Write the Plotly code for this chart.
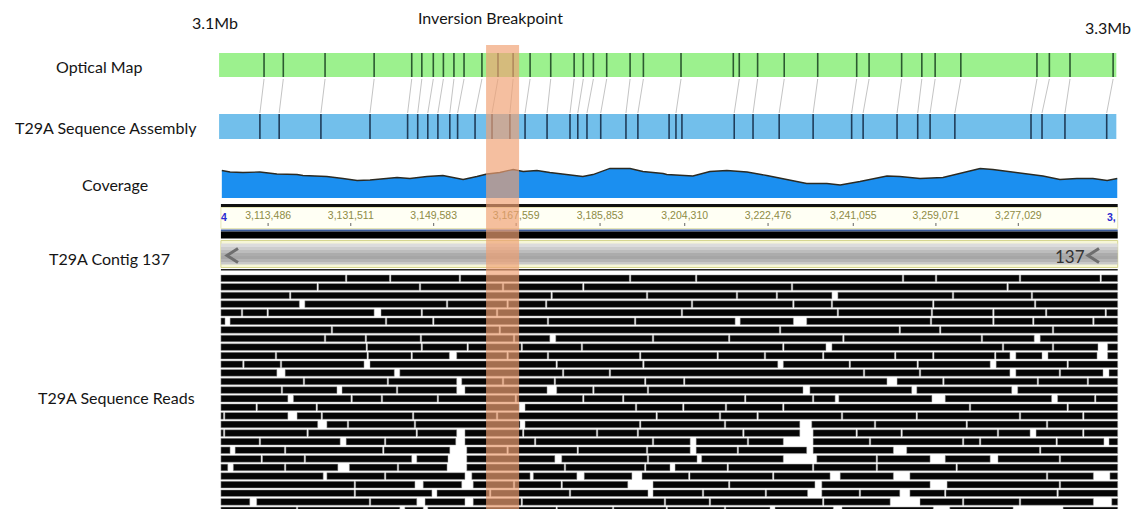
import plotly.graph_objects as go

# ---------------- data ----------------
TRACK_LABELS = ["Optical Map", "T29A Sequence Assembly", "Coverage", "T29A Contig 137", "T29A Sequence Reads"]
REGION_LABELS = ["3.1Mb", "3.3Mb"]
BREAKPOINT_TITLE = "Inversion Breakpoint"
BREAKPOINT_KB = [3161.0, 3168.2]
MAP_SPAN_KB = [3102.8, 3298.4]
CONTIG_SPAN_KB = [3103.2, 3298.7]
CONTIG_ID = "137"

OPTICAL_CUTS_KB = [3112.6, 3116.8, 3125.9, 3136.6, 3144.8, 3147.0, 3149.5, 3151.7, 3154.0, 3156.2,
                   3160.1, 3163.6, 3166.9, 3170.6, 3175.1, 3180.2, 3182.2, 3184.4, 3187.3, 3192.4,
                   3195.3, 3203.5, 3214.9, 3216.2, 3220.2, 3226.0, 3233.3, 3241.8, 3244.5, 3251.6,
                   3256.0, 3258.9, 3264.5, 3281.1, 3283.8, 3288.3, 3297.7]
ASSEMBLY_CUTS_KB = [3111.7, 3115.9, 3125.0, 3135.7, 3143.9, 3146.1, 3148.3, 3150.5, 3153.1, 3154.8,
                    3158.6, 3162.3, 3166.2, 3169.5, 3174.3, 3179.3, 3181.0, 3183.0, 3186.0, 3191.5,
                    3194.1, 3200.9, 3202.4, 3203.7, 3215.1, 3219.2, 3224.9, 3232.3, 3240.7, 3243.2,
                    3250.6, 3255.1, 3257.8, 3263.2, 3279.8, 3282.2, 3287.2, 3296.3]
ALIGN_OPTICAL_KB = [3112.6, 3116.8, 3125.9, 3136.6, 3144.8, 3147.0, 3149.5, 3151.7, 3154.0, 3156.2,
                    3160.1, 3163.6, 3166.9, 3170.6, 3175.1, 3180.2, 3182.2, 3184.4, 3187.3, 3192.4,
                    3195.3, 3203.5, 3216.2, 3220.2, 3226.0, 3233.3, 3241.8, 3244.5, 3251.6,
                    3256.0, 3258.9, 3264.5, 3281.1, 3283.8, 3288.3, 3297.7]
ALIGN_ASSEMBLY_KB = [3111.7, 3115.9, 3125.0, 3135.7, 3143.9, 3146.1, 3148.3, 3150.5, 3153.1, 3154.8,
                     3158.6, 3162.3, 3166.2, 3169.5, 3174.3, 3179.3, 3181.0, 3183.0, 3186.0, 3191.5,
                     3194.1, 3202.4, 3215.1, 3219.2, 3224.9, 3232.3, 3240.7, 3243.2, 3250.6,
                     3255.1, 3257.8, 3263.2, 3279.8, 3282.2, 3287.2, 3296.3]

COVERAGE_POS_KB = [3103.4, 3105.2, 3108.0, 3111.7, 3115.4, 3119.8, 3121.1, 3126.3, 3129.8, 3132.9,
                   3135.7, 3138.5, 3141.6, 3144.4, 3148.1, 3151.6, 3156.0, 3159.0, 3161.2, 3164.0,
                   3166.9, 3169.1, 3172.1, 3174.9, 3177.8, 3182.1, 3184.3, 3188.0, 3192.4, 3195.2,
                   3199.6, 3200.4, 3206.1, 3209.8, 3213.5, 3217.9, 3222.2, 3226.6, 3230.9, 3235.3,
                   3238.2, 3242.5, 3248.4, 3251.2, 3255.6, 3260.6, 3264.3, 3268.7, 3271.5, 3275.2,
                   3278.9, 3282.4, 3286.1, 3289.8, 3293.3, 3296.4, 3298.6]
COVERAGE_DEPTH = [55, 52, 51, 52, 48, 47, 45, 43, 39, 35,
                  36, 39, 41, 39, 43, 45, 37, 43, 48, 51,
                  57, 53, 55, 51, 48, 43, 47, 59, 59, 53,
                  49, 47, 44, 53, 55, 52, 45, 37, 29, 29,
                  26, 33, 44, 43, 39, 41, 49, 59, 57, 53,
                  49, 44, 37, 39, 39, 35, 39]

RULER_TICKS_BP = [3113486, 3131511, 3149583, 3167559, 3185853, 3204310, 3222476, 3241055, 3259071, 3277029]

# each row: single value = read boundary, pair = uncovered gap (kb)
READ_ROWS = [
    [3130.5, 3140.1, 3155.3, 3192.4, 3206.8, 3251.9, 3259.1, 3277.4, 3295.0],
    [3124.3, 3146.6, 3164.7, 3182.2, 3227.7, 3274.7],
    [3118.3, 3175.3, 3196.1, 3215.7, 3224.4, (3236.4, 3237.7), 3262.8, 3280.0],
    [(3120.3, 3121.5), 3152.5, 3165.7, 3174.1, 3205.9, 3228.0, 3236.4, 3258.5, 3280.7],
    [3107.8, 3113.4, (3136.6, 3138.1), 3147.0, 3163.4, 3203.7, 3237.7, 3258.2, 3271.6, 3283.1, 3296.1],
    [(3104.1, 3105.2), 3139.2, 3149.5, 3174.5, 3193.5, (3215.3, 3216.4), (3228.0, 3230.9), 3258.0, 3271.6, 3280.3, 3293.4],
    [3127.4, 3164.0, 3225.1, 3251.2, 3260.0, 3284.6],
    [3125.9, 3134.8, 3146.8, 3167.1, (3174.9, 3176.2), 3197.4, 3214.0, 3238.9, 3269.1, (3280.5, 3281.8)],
    [3135.0, 3147.0, 3157.0, 3168.8, 3181.9, 3225.8, (3235.1, 3236.4), 3273.7, 3284.6, (3294.4, 3296.5)],
    [3115.2, 3135.2, 3144.8, (3153.0, 3154.6), 3165.7, 3174.5, 3194.6, 3211.5, 3221.8, 3234.5, 3250.2, 3258.5,
     3272.0, (3275.2, 3276.5), (3282.2, 3283.5), (3294.2, 3296.5)],
    [3108.1, 3116.3, (3134.4, 3135.7), 3176.4, 3195.3, (3224.6, 3225.8), 3240.3, 3255.1, (3270.9, 3272.2), 3287.8],
    [(3115.4, 3117.2), (3141.0, 3142.2), 3177.8, 3188.0, 3243.4, 3255.6, (3275.2, 3276.5), 3286.1, (3295.5, 3296.8)],
    [3121.3, 3139.6, (3154.6, 3155.7), 3164.7, 3176.0, 3195.7, 3204.2, (3248.4, 3250.6), 3260.7, 3281.3, 3292.2],
    [3116.5, (3128.5, 3129.6), 3141.6, (3154.6, 3156.4), (3174.3, 3176.4), 3184.4, 3196.3, (3230.1, 3231.6),
     (3253.8, 3254.9), (3275.6, 3276.9)],
    [(3117.8, 3119.0), 3131.7, 3138.3, 3150.5, 3167.5, 3182.2, 3190.9, 3217.5, 3232.3, (3237.1, 3237.9),
     (3258.2, 3261.1), (3284.3, 3285.6), 3293.8],
    [3111.0, 3124.1, (3168.2, 3169.5), 3193.7, 3204.0, 3213.3, 3225.8, 3266.5, 3287.8],
    [3103.9, (3117.8, 3119.8), 3125.2, 3145.1, 3163.4, 3198.2, 3212.0, 3220.2, 3238.6, 3254.9, 3277.4, 3291.2],
    [(3124.3, 3126.3), 3130.9, 3145.5, (3168.4, 3169.5), 3194.6, 3213.1, (3229.4, 3232.0), 3245.8, 3265.8, 3283.3],
    [3103.9, 3122.1, 3145.9, (3154.6, 3156.4), 3169.1, 3185.2, 3194.1, 3217.1, (3229.4, 3232.3), 3241.8, 3251.6,
     3272.6, (3279.6, 3280.9), 3291.2],
    [3111.7, (3129.2, 3130.5), 3139.0, (3154.4, 3156.4), 3171.7, 3197.4, (3205.5, 3206.8), 3218.1, (3225.8, 3232.3),
     3244.7, 3265.0, 3268.7, 3285.4, (3295.7, 3296.8)],
    [(3105.2, 3106.3), 3117.2, 3138.6, (3153.1, 3156.8), 3165.7, 3181.0, 3196.1, (3205.5, 3206.8), 3215.9,
     (3230.9, 3232.3), (3249.8, 3252.7), 3281.8],
    [3112.1, 3121.5, (3144.8, 3145.9), (3152.7, 3156.8), (3176.0, 3177.5), 3196.3, (3207.0, 3208.0), (3225.8, 3233.1),
     3246.2, (3257.8, 3261.1), (3270.9, 3272.6), 3286.1],
    [(3104.7, 3105.9), 3117.2, (3128.7, 3131.2), 3141.8, (3152.5, 3156.8), 3178.2, 3195.7, (3201.1, 3202.2), 3213.7,
     3232.3, 3246.2, 3263.6],
    [(3125.5, 3126.3), 3139.0, (3156.4, 3157.9), (3170.6, 3171.3), (3180.8, 3182.4), (3192.8, 3195.0), 3205.3, 3223.6,
     (3236.0, 3238.2), (3249.8, 3253.4), 3283.3, (3293.4, 3297.0)],
    [3132.4, (3145.5, 3147.3), (3155.7, 3158.2), 3167.1, 3177.5, (3191.9, 3197.4), 3214.0, (3232.7, 3234.2),
     (3257.8, 3261.5), 3286.1],
    [3132.4, (3149.2, 3150.3), 3161.9, 3179.3, (3196.3, 3197.4), 3208.3, 3222.0, (3231.1, 3234.2), 3242.5,
     (3251.2, 3253.4), 3261.1, 3285.6],
    [(3109.5, 3111.0), 3135.7, (3145.9, 3147.7), (3156.4, 3158.2), 3168.8, 3200.0, 3209.8, 3234.5, (3249.1, 3255.6),
     3265.0, 3277.4, (3293.4, 3297.4)],
    [3119.8, (3142.2, 3143.3), (3147.3, 3148.3), 3176.4, 3188.7, 3200.4, 3213.1, (3222.9, 3224.0), (3236.7, 3238.6),
     (3258.5, 3262.1), (3275.9, 3286.8)],
]

# ---------------- layout geometry ----------------
W, H = 1134, 509
KB_PER_PX = 0.218
VIEW_START_KB = 3055.04
VIEW_END_KB = VIEW_START_KB + W * KB_PER_PX

OPT_Y = (53, 77)
ASM_Y = (114, 139)
LABEL_FONT = "Lato"
LABEL_SIZE = 16


def px(xp):
    return xp / W


def expand_row(row, start, end, sep=0.16):
    reads, cur = [], start
    for item in row:
        if isinstance(item, (list, tuple)):
            a, b = item
            if a > cur:
                reads.append((cur, a))
            cur = b
        else:
            reads.append((cur, item - sep))
            cur = item + sep
    if end > cur:
        reads.append((cur, end))
    return reads


fig = go.Figure()
shapes = []
annotations = []

# optical map and assembly bars
shapes.append(dict(type="rect", xref="x", yref="y", x0=MAP_SPAN_KB[0], x1=MAP_SPAN_KB[1],
                   y0=OPT_Y[0], y1=OPT_Y[1], fillcolor="#9cf18e", line=dict(width=0), layer="below"))
shapes.append(dict(type="rect", xref="x", yref="y", x0=MAP_SPAN_KB[0], x1=MAP_SPAN_KB[1],
                   y0=ASM_Y[0], y1=ASM_Y[1], fillcolor="#72bfeb", line=dict(width=0), layer="below"))


def vlines(xs, y0, y1):
    X, Y = [], []
    for v in xs:
        X += [v, v, None]
        Y += [y0, y1, None]
    return X, Y


X, Y = vlines(OPTICAL_CUTS_KB, OPT_Y[0], OPT_Y[1])
fig.add_trace(go.Scatter(x=X, y=Y, mode="lines", line=dict(color="#2c5a30", width=1.6), hoverinfo="skip"))
X, Y = vlines(ASSEMBLY_CUTS_KB, ASM_Y[0], ASM_Y[1])
fig.add_trace(go.Scatter(x=X, y=Y, mode="lines", line=dict(color="#1f3d5a", width=1.6), hoverinfo="skip"))

# alignment connectors
X, Y = [], []
for a, b in zip(ALIGN_OPTICAL_KB, ALIGN_ASSEMBLY_KB):
    X += [a, b, None]
    Y += [OPT_Y[1] + 2, ASM_Y[0] - 1, None]
fig.add_trace(go.Scatter(x=X, y=Y, mode="lines", line=dict(color="#c4c4c4", width=1), hoverinfo="skip"))

# coverage
fig.add_trace(go.Scatter(x=COVERAGE_POS_KB, y=COVERAGE_DEPTH, yaxis="y2", mode="lines",
                         fill="tozeroy", fillcolor="#1b8ff0",
                         line=dict(color="#2b2a22", width=1.3), hoverinfo="skip"))

# ruler
shapes.append(dict(type="rect", xref="x", yref="y", x0=CONTIG_SPAN_KB[0], x1=CONTIG_SPAN_KB[1],
                   y0=204, y1=207.5, fillcolor="#111111", line=dict(width=0), layer="below"))
shapes.append(dict(type="rect", xref="x", yref="y", x0=CONTIG_SPAN_KB[0], x1=CONTIG_SPAN_KB[1],
                   y0=207.5, y1=228.5, fillcolor="#fffff4", line=dict(width=1, color="#e6e6b8"), layer="below"))
shapes.append(dict(type="rect", xref="x", yref="y", x0=CONTIG_SPAN_KB[0], x1=CONTIG_SPAN_KB[1],
                   y0=229.5, y1=231.5, fillcolor="#3a5a9a", line=dict(width=0), layer="below"))
shapes.append(dict(type="rect", xref="x", yref="y", x0=CONTIG_SPAN_KB[0], x1=CONTIG_SPAN_KB[1],
                   y0=231.5, y1=238.5, fillcolor="#000000", line=dict(width=0), layer="below"))
shapes.append(dict(type="rect", xref="x", yref="y", x0=CONTIG_SPAN_KB[0], x1=CONTIG_SPAN_KB[1],
                   y0=240.5, y1=267.5, fillcolor="#f6f6d8", line=dict(width=1, color="#d6d690"), layer="below"))
grad = [(243.5, 247, "#dcdcdc"), (247, 250, "#cdcdcd"), (250, 253, "#bdbdbd"), (253, 256, "#acacac"),
        (256, 259, "#a6a6a6"), (259, 262, "#b4b4b4"), (262, 264.5, "#c8c8c8")]
for y0, y1, c in grad:
    shapes.append(dict(type="rect", xref="x", yref="y", x0=CONTIG_SPAN_KB[0], x1=CONTIG_SPAN_KB[1],
                       y0=y0, y1=y1, fillcolor=c, line=dict(width=0), layer="below"))
shapes.append(dict(type="rect", xref="x", yref="y", x0=CONTIG_SPAN_KB[0], x1=CONTIG_SPAN_KB[1],
                   y0=269, y1=270.5, fillcolor="#222222", line=dict(width=0), layer="below"))

tick_kb = [t / 1000 for t in RULER_TICKS_BP]
tick_txt = [f"{t:,}" for t in RULER_TICKS_BP]
fig.add_trace(go.Scatter(x=tick_kb, y=[216.5] * len(tick_kb), mode="text", text=tick_txt,
                         textfont=dict(family="Liberation Sans", size=10.5, color="#8e8b45"),
                         hoverinfo="skip"))
X, Y = vlines(tick_kb, 223, 226)
fig.add_trace(go.Scatter(x=X, y=Y, mode="lines", line=dict(color="#666666", width=1), hoverinfo="skip"))

# chevrons on the contig scroll bar
for cx in (227, 1088):
    shapes.append(dict(type="path", xref="paper", yref="y",
                       path=f"M {px(cx + 11)},248.5 L {px(cx)},255.5 L {px(cx + 11)},262.5",
                       line=dict(color="#6e6e6e", width=3)))

# reads
bases, lens, rows = [], [], []
for i, row in enumerate(READ_ROWS):
    for s, e in expand_row(row, CONTIG_SPAN_KB[0], CONTIG_SPAN_KB[1]):
        bases.append(s)
        lens.append(e - s)
        rows.append(i)
fig.add_trace(go.Bar(orientation="h", base=bases, x=lens, y=rows, yaxis="y3", width=0.78,
                     marker=dict(color="#050505", line=dict(color="#a8a8a8", width=0.5)),
                     hoverinfo="skip"))

# breakpoint highlight
shapes.append(dict(type="rect", xref="x", yref="y", x0=BREAKPOINT_KB[0], x1=BREAKPOINT_KB[1],
                   y0=45, y1=H, fillcolor="rgba(240,160,115,0.68)", line=dict(width=0), layer="above"))

# text
label_pos = [(98.5, 66), (105.5, 127), (115, 184), (109, 258), (116.5, 397)]
for t, (xc, yc) in zip(TRACK_LABELS, label_pos):
    annotations.append(dict(text=t, xref="paper", yref="y", x=px(xc), y=yc, showarrow=False,
                            xanchor="center", yanchor="middle",
                            font=dict(family=LABEL_FONT, size=LABEL_SIZE, color="#151515")))
annotations.append(dict(text=REGION_LABELS[0], xref="paper", yref="y", x=px(215), y=22, showarrow=False,
                        xanchor="center", yanchor="middle", font=dict(family=LABEL_FONT, size=LABEL_SIZE, color="#151515")))
annotations.append(dict(text=REGION_LABELS[1], xref="paper", yref="y", x=px(1108), y=27, showarrow=False,
                        xanchor="center", yanchor="middle", font=dict(family=LABEL_FONT, size=LABEL_SIZE, color="#151515")))
annotations.append(dict(text=BREAKPOINT_TITLE, xref="paper", yref="y", x=px(490.5), y=17, showarrow=False,
                        xanchor="center", yanchor="middle", font=dict(family=LABEL_FONT, size=LABEL_SIZE, color="#151515")))
annotations.append(dict(text=CONTIG_ID, xref="paper", yref="y", x=px(1087), y=256, showarrow=False,
                        xanchor="right", yanchor="middle", font=dict(family=LABEL_FONT, size=17, color="#333333")))
annotations.append(dict(text="<b>4</b>", xref="paper", yref="y", x=px(219), y=217, showarrow=False,
                        xanchor="left", yanchor="middle", font=dict(family="Liberation Sans", size=10.5, color="#2a2ad0")))
annotations.append(dict(text="<b>3,</b>", xref="paper", yref="y", x=px(1118), y=217, showarrow=False,
                        xanchor="right", yanchor="middle", font=dict(family="Liberation Sans", size=10.5, color="#2a2ad0")))

fig.update_layout(
    width=W, height=H, margin=dict(l=0, r=0, t=0, b=0),
    paper_bgcolor="white", plot_bgcolor="white", showlegend=False, barmode="overlay",
    xaxis=dict(range=[VIEW_START_KB, VIEW_END_KB], visible=False, fixedrange=True),
    yaxis=dict(range=[H, 0], domain=[0, 1], visible=False, fixedrange=True),
    yaxis2=dict(range=[0, 96], domain=[1 - 198 / H, 1 - 150 / H], anchor="x", visible=False, fixedrange=True),
    yaxis3=dict(range=[26.83, -0.5], domain=[0, 1 - 274 / H], anchor="x", visible=False, fixedrange=True),
    shapes=shapes, annotations=annotations,
)

fig.write_html("out.html", config={"displayModeBar": False},
               post_script="document.body.style.margin='0';document.body.style.overflow='hidden';")
